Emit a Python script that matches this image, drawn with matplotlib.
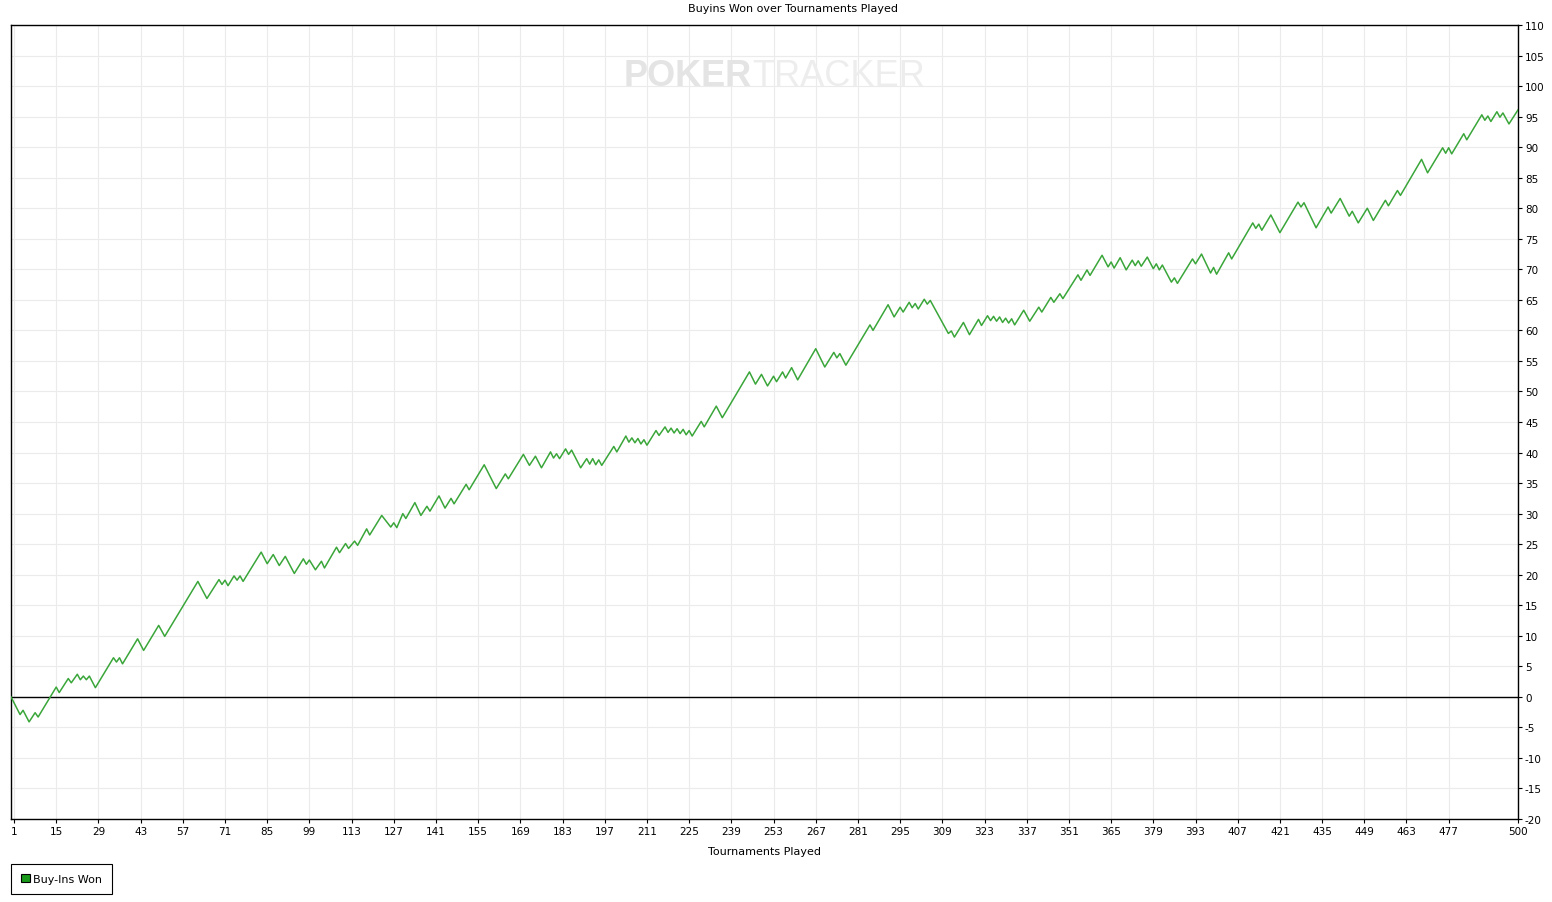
import numpy as np
import matplotlib
matplotlib.use("Agg")
import matplotlib.pyplot as plt
from matplotlib.patches import Patch

# turning points of the cumulative buy-ins line
tournaments = [0, 3, 4, 6, 8, 9, 15, 16, 19, 20, 22, 23, 24, 25, 26, 28, 34, 35, 36, 37,
               42, 44, 49, 51, 62, 65, 69, 70, 71, 72, 74, 75, 76, 77, 83, 85, 87, 89, 91, 94,
               97, 98, 99, 101, 103, 104, 108, 109, 111, 112, 114, 115, 118, 119, 123, 126, 127, 128, 130, 131,
               134, 136, 138, 139, 142, 144, 146, 147, 151, 152, 157, 161, 164, 165, 170, 172, 174, 176, 179, 180,
               181, 182, 184, 185, 186, 189, 191, 192, 193, 194, 195, 196, 200, 201, 204, 205, 206, 207, 208, 209,
               210, 211, 214, 215, 217, 218, 219, 220, 221, 222, 223, 224, 225, 226, 229, 230, 234, 236, 245, 247,
               249, 251, 253, 254, 256, 257, 259, 261, 267, 270, 273, 274, 275, 277, 285, 286, 291, 293, 295, 296,
               298, 299, 300, 301, 303, 304, 305, 311, 312, 313, 316, 318, 321, 322, 324, 325, 326, 327, 328, 329,
               330, 331, 332, 333, 336, 338, 341, 342, 345, 346, 348, 349, 354, 355, 357, 358, 362, 364, 365, 366,
               368, 370, 372, 373, 374, 375, 377, 379, 380, 381, 382, 385, 386, 387, 392, 393, 395, 398, 399, 400,
               404, 405, 412, 413, 414, 415, 418, 421, 427, 428, 429, 433, 437, 438, 441, 444, 445, 447, 450, 452,
               456, 457, 460, 461, 468, 470, 475, 476, 477, 478, 482, 483, 488, 489, 490, 491, 493, 494, 495, 497,
               500]
buyins_won = [0.0, -2.9, -2.2, -4.1, -2.6, -3.3, 1.6, 0.7, 3.0, 2.3, 3.7, 2.8, 3.4, 2.8, 3.4, 1.5, 6.4, 5.7, 6.4, 5.4,
              9.5, 7.6, 11.7, 9.9, 18.9, 16.1, 19.2, 18.4, 19.1, 18.2, 19.8, 19.1, 19.8, 18.9, 23.7, 21.8, 23.3, 21.5, 23.0, 20.2,
              22.6, 21.7, 22.4, 20.8, 22.2, 21.1, 24.5, 23.6, 25.1, 24.3, 25.5, 24.8, 27.5, 26.5, 29.7, 27.8, 28.5, 27.7, 30.0, 29.2,
              31.8, 29.7, 31.2, 30.4, 32.9, 30.9, 32.5, 31.6, 34.8, 33.9, 38.0, 34.1, 36.5, 35.7, 39.7, 37.9, 39.4, 37.5, 40.1, 39.1,
              39.8, 39.0, 40.6, 39.7, 40.4, 37.5, 39.0, 38.1, 39.0, 38.0, 38.8, 37.9, 41.0, 40.1, 42.7, 41.7, 42.4, 41.6, 42.3, 41.4,
              42.1, 41.2, 43.6, 42.8, 44.2, 43.3, 44.0, 43.2, 43.9, 43.1, 43.8, 42.9, 43.6, 42.7, 45.1, 44.2, 47.6, 45.7, 53.2, 51.2,
              52.8, 50.9, 52.5, 51.6, 53.2, 52.2, 53.9, 51.9, 57.0, 54.0, 56.4, 55.5, 56.2, 54.3, 60.9, 60.0, 64.2, 62.2, 63.8, 63.0,
              64.6, 63.7, 64.4, 63.5, 65.1, 64.3, 64.9, 59.5, 59.9, 58.9, 61.3, 59.3, 61.8, 60.8, 62.4, 61.6, 62.3, 61.5, 62.2, 61.3,
              62.0, 61.2, 61.9, 60.9, 63.3, 61.5, 63.8, 63.0, 65.4, 64.6, 66.0, 65.2, 69.1, 68.2, 69.9, 69.0, 72.3, 70.4, 71.2, 70.2,
              71.9, 69.9, 71.5, 70.6, 71.4, 70.5, 72.0, 70.1, 70.9, 69.9, 70.7, 67.9, 68.6, 67.7, 71.7, 70.9, 72.5, 69.4, 70.3, 69.2,
              72.7, 71.7, 77.6, 76.7, 77.4, 76.4, 78.9, 76.0, 81.0, 80.2, 80.9, 76.8, 80.2, 79.2, 81.6, 78.7, 79.5, 77.6, 80.0, 78.0,
              81.3, 80.4, 82.9, 82.1, 88.0, 85.8, 89.9, 89.0, 89.9, 88.9, 92.2, 91.2, 95.3, 94.4, 95.1, 94.2, 95.8, 94.9, 95.6, 93.8,
              96.1]

x_ticks = list(range(1, 478, 14)) + [500]
y_ticks = list(range(-20, 111, 5))

LINE_GREEN = "#3aa63a"

plt.rcParams['axes.unicode_minus'] = False


def plot(fname):
    fig = plt.figure(figsize=(15.52, 9.03), dpi=100)
    ax = fig.add_axes([11 / 1552, 1 - 820 / 903, 1507 / 1552, 794 / 903])

    ax.plot(tournaments, buyins_won, color=LINE_GREEN, lw=1.1, zorder=3)
    ax.axhline(0, color="black", lw=1, zorder=2)

    ax.set_xlim(0, 500)
    ax.set_ylim(-20, 110)
    ax.set_xticks(x_ticks)
    ax.set_yticks(y_ticks)
    ax.yaxis.tick_right()
    ax.tick_params(axis="both", labelsize=7.5, length=3, width=0.8, pad=2)
    ax.grid(True, color="#ebebeb", lw=0.8, zorder=0)
    ax.set_axisbelow(True)
    for s in ax.spines.values():
        s.set_color("black")
        s.set_linewidth(1)

    fig.text(793 / 1552, 1 - 9 / 903, "Buyins Won over Tournaments Played",
             fontsize=8, ha="center", va="center")
    ax.set_xlabel("Tournaments Played", fontsize=8, labelpad=7)

    # faint watermark
    wm_x = (752 - 11) / 1507
    wm_y = (820 - 76) / 794
    ax.text(wm_x, wm_y, "POKER", transform=ax.transAxes, ha="right", va="center",
            fontsize=26, fontweight="bold", color="#e4e4e4", family="Liberation Sans", zorder=1)
    ax.text(wm_x, wm_y, "TRACKER", transform=ax.transAxes, ha="left", va="center",
            fontsize=26, color="#ededed", family="Liberation Sans", zorder=1)

    handle = Patch(facecolor="#1a9a1a", edgecolor="black", lw=0.8)
    leg = fig.legend([handle], ["Buy-Ins Won"], loc="lower left",
                     bbox_to_anchor=(11 / 1552, 1 - 895 / 903), borderaxespad=0,
                     fontsize=8, fancybox=False, edgecolor="black", framealpha=1,
                     handlelength=0.8, handleheight=0.8, handletextpad=0.3,
                     borderpad=0.9)
    leg.get_frame().set_linewidth(0.8)

    plt.savefig(fname, dpi=100)
    plt.close(fig)


def main():
    plot("out.png")


if __name__ == '__main__':
    main()
